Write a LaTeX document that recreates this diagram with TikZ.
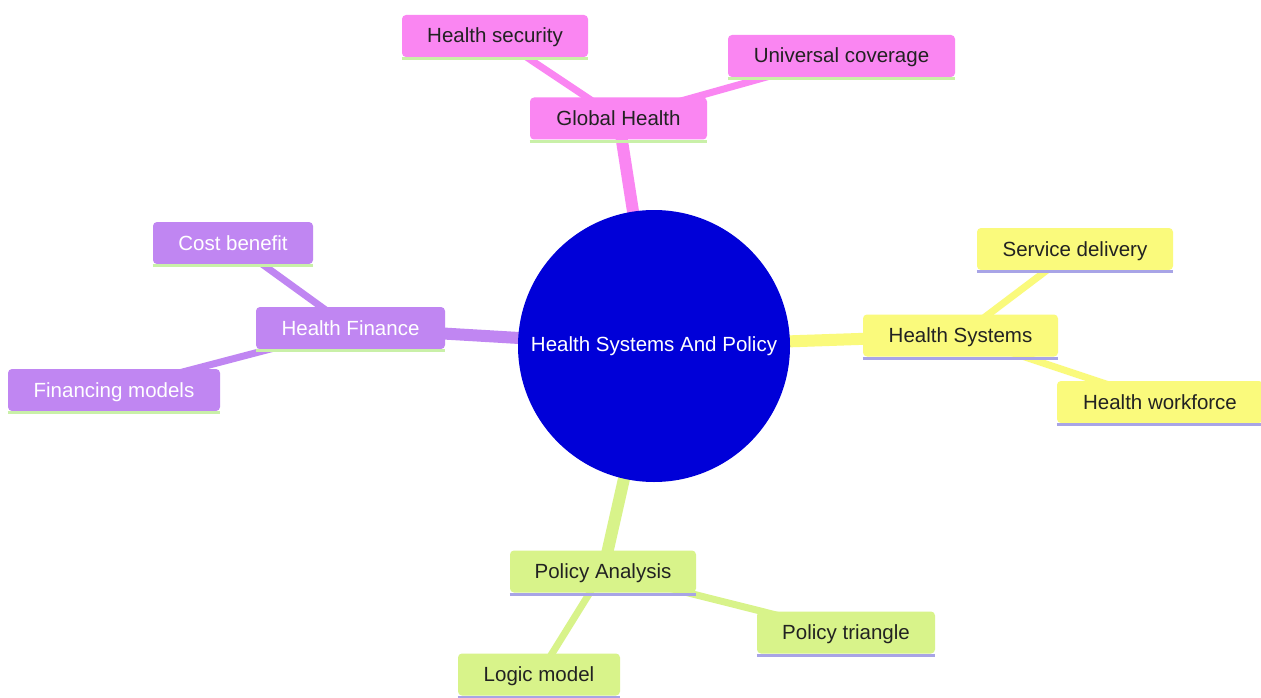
\documentclass[tikz,border=0pt]{standalone}
\usepackage{fontspec}
\setmainfont{Liberation Sans}
\pgfdeclarelayer{bottom}
\pgfdeclarelayer{background}
\pgfsetlayers{bottom,background,main}
\definecolor{rootc}{HTML}{0000D8}
\definecolor{pinkc}{HTML}{FA86F2}
\definecolor{purplec}{HTML}{C086F2}
\definecolor{yellowc}{HTML}{FAFA7C}
\definecolor{greenc}{HTML}{D8F38A}
\definecolor{ulgreen}{HTML}{C9F0A8}
\definecolor{ullav}{HTML}{A8A4E6}
\definecolor{darktext}{HTML}{222222}
\tikzset{
  box/.style={rounded corners=4pt, minimum height=42pt, inner xsep=0pt, inner ysep=0pt,
     text height=18pt, text depth=4pt,
     font=\fontsize{20.5}{24}\selectfont, anchor=center},
  pinkbox/.style={box, fill=pinkc, text=darktext},
  purplebox/.style={box, fill=purplec, text=white},
  yellowbox/.style={box, fill=yellowc, text=darktext},
  greenbox/.style={box, fill=greenc, text=darktext},
  rootedge/.style={line width=12pt},
  subedge/.style={line width=7pt},
  uline/.style={line width=3pt}
}
\begin{document}
\begin{tikzpicture}[x=1pt,y=-1pt]
\useasboundingbox (0,0) rectangle (1261,698);
\begin{pgfonlayer}{bottom}
\fill[white] (0,0) rectangle (1261,698);
\end{pgfonlayer}
% root
\node[circle, fill=rootc, minimum size=272pt, inner sep=0pt, text=white,
      font=\fontsize{20.5}{24}\selectfont] (root) at (654,346) {Health Systems And Policy};
% Global Health section
\node[pinkbox, minimum width=177pt] (gh) at (618.5,118.5) {Global Health};
\node[pinkbox, minimum width=186pt] (hsec) at (495,36) {Health security};
\node[pinkbox, minimum width=227pt] (uc) at (841.5,56) {Universal coverage};
% Health Systems section
\node[yellowbox, minimum width=195pt] (hs) at (960.5,335.5) {Health Systems};
\node[yellowbox, minimum width=196pt] (sd) at (1075,249) {Service delivery};
\node[yellowbox, minimum width=206pt] (hw) at (1160,402) {Health workforce};
% Health Finance section
\node[purplebox, minimum width=189pt] (hf) at (350.5,328) {Health Finance};
\node[purplebox, minimum width=160pt] (cb) at (233,243) {Cost benefit};
\node[purplebox, minimum width=212pt] (fm) at (114,390) {Financing models};
% Policy Analysis section
\node[greenbox, minimum width=186pt] (pa) at (603,571.5) {Policy Analysis};
\node[greenbox, minimum width=178pt] (pt) at (846,632.5) {Policy triangle};
\node[greenbox, minimum width=162pt] (lm) at (539,674.5) {Logic model};
% underlines
\foreach \n in {gh,hsec,uc,hf,cb,fm}
  \draw[uline, ulgreen] ([yshift=-1.5pt]\n.south west) -- ([yshift=-1.5pt]\n.south east);
\foreach \n in {hs,sd,hw,pa,pt,lm}
  \draw[uline, ullav] ([yshift=-1.5pt]\n.south west) -- ([yshift=-1.5pt]\n.south east);
% edges
\begin{pgfonlayer}{background}
  \draw[rootedge, pinkc] (root.center) -- (gh.center);
  \draw[subedge, pinkc] (gh.center) -- (hsec.center);
  \draw[subedge, pinkc] (gh.center) -- (uc.center);
  \draw[rootedge, yellowc] (root.center) -- (hs.center);
  \draw[subedge, yellowc] (hs.center) -- (sd.center);
  \draw[subedge, yellowc] (hs.center) -- (hw.center);
  \draw[rootedge, purplec] (root.center) -- (hf.center);
  \draw[subedge, purplec] (hf.center) -- (cb.center);
  \draw[subedge, purplec] (hf.center) -- (fm.center);
  \draw[rootedge, greenc] (root.center) -- (pa.center);
  \draw[subedge, greenc] (pa.center) -- (pt.center);
  \draw[subedge, greenc] (pa.center) -- (lm.center);
\end{pgfonlayer}
\end{tikzpicture}
\end{document}
